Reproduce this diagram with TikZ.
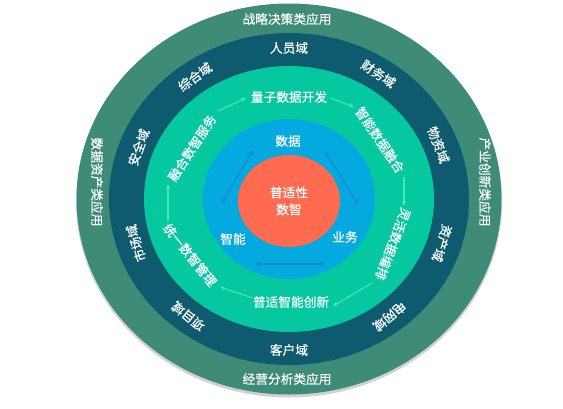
\documentclass[tikz,border=0pt]{standalone}
\usepackage{fontspec}
\newfontfamily\cjk{Noto Sans CJK SC}[FakeBold=0.5]
\usetikzlibrary{arrows.meta,calc,shapes.geometric}
\definecolor{outerc}{HTML}{3E8C78}
\definecolor{darkc}{HTML}{0E5A6E}
\definecolor{greenc}{HTML}{05C7A0}
\definecolor{bluec}{HTML}{03A9DF}
\definecolor{orangec}{HTML}{FF6B50}
\definecolor{mint}{HTML}{3DEBB8}
\definecolor{arrowblue}{HTML}{1D86C8}
\begin{document}
\begin{tikzpicture}[x=1pt,y=-1pt,
  lbl/.style={text=white,font=\cjk\fontsize{12.7}{17}\selectfont,inner sep=0pt},
  garrow/.style={draw=mint,line width=1.1pt,-{Stealth[length=5pt,width=4.5pt]}},
  barrow/.style={draw=arrowblue,line width=1.1pt,{Stealth[length=5pt,width=4.5pt]}-{Stealth[length=5pt,width=4.5pt]}}]
\useasboundingbox (0,0) rectangle (563,408);
\coordinate (c) at (289,199);
% rings
\fill[black!18] (289,201.5) ellipse [x radius=213pt,y radius=196pt];
\fill[outerc] (c) ellipse [x radius=212.5pt,y radius=195.5pt];
\fill[darkc] (c) ellipse [x radius=180pt,y radius=166pt];
\fill[greenc] (c) ellipse [x radius=145pt,y radius=133pt];
\fill[bluec] (c) ellipse [x radius=86pt,y radius=80pt];
\node[ellipse,fill=orangec,minimum width=102pt,minimum height=92pt,inner sep=0pt,align=center,lbl] (core) at (289,201) {普适性\\数智};
% outer ring labels
\node[lbl] (app1) at (287,19) {战略决策类应用};
\node[lbl,rotate=-90] (app2) at (485,182) {产业创新类应用};
\node[lbl] (app3) at (287,379) {经营分析类应用};
\node[lbl,rotate=-90] (app4) at (97,182) {数据资产类应用};
% dark ring labels
\node[lbl] (d1) at ({289+160*cos(90)},{199-151*sin(90)}) {人员域};
\node[lbl,rotate=-34] (d2) at ({289+160*cos(56)},{199-151*sin(56)}) {财务域};
\node[lbl,rotate=-69] (d3) at ({289+160*cos(21)},{199-151*sin(21)}) {物资域};
\node[lbl,rotate=-107] (d4) at ({289+160*cos(-17)},{199-151*sin(-17)}) {资产域};
\node[lbl,rotate=-141] (d5) at ({289+160*cos(-51)},{199-151*sin(-51)}) {电网域};
\node[lbl] (d6) at ({289+160*cos(-90)},{199-151*sin(-90)}) {客户域};
\node[lbl,rotate=141] (d7) at ({289+160*cos(-129)},{199-151*sin(-129)}) {项目域};
\node[lbl,rotate=107] (d8) at ({289+160*cos(-163)},{199-151*sin(-163)}) {市场域};
\node[lbl,rotate=70] (d9) at ({289+160*cos(160)},{199-151*sin(160)}) {安全域};
\node[lbl,rotate=36] (d10) at ({289+160*cos(126)},{199-151*sin(126)}) {综合域};
% green ring labels
\node[lbl] (g1) at (289,97) {量子数据开发};
\node[lbl,rotate=-56] (g2) at (380,140) {智能数据融合};
\node[lbl,rotate=-111] (g3) at (393,244) {灵活数据编排};
\node[lbl] (g4) at (291,302) {普适智能创新};
\node[lbl,rotate=-51] (g5) at (190,255) {统一数智管理};
\node[lbl,rotate=57] (g6) at (192,148) {融合数智服务};
% green arrows
\coordinate (a1s) at (218,111); \coordinate (a1e) at (246,98);
\coordinate (a2s) at (331,98);  \coordinate (a2e) at (354,107);
\coordinate (a3s) at (404,177); \coordinate (a3e) at (404,206);
\coordinate (a4s) at (372,283); \coordinate (a4e) at (333,306);
\coordinate (a5s) at (253,298); \coordinate (a5e) at (220,287);
\coordinate (a6s) at (168,221); \coordinate (a6e) at (168,184);
\draw[garrow] (a1s) -- (a1e);
\draw[garrow] (a2s) -- (a2e);
\draw[garrow] (a3s) -- (a3e);
\draw[garrow] (a4s) -- (a4e);
\draw[garrow] (a5s) -- (a5e);
\draw[garrow] (a6s) -- (a6e);
% blue labels
\node[lbl] (b1) at (288,141) {数据};
\node[lbl] (b2) at (233,239) {智能};
\node[lbl] (b3) at (345,237) {业务};
% blue arrows
\coordinate (p1s) at (253,150); \coordinate (p1e) at (222,203);
\coordinate (p2s) at (325,152); \coordinate (p2e) at (358,204);
\coordinate (p3s) at (255,264); \coordinate (p3e) at (325,264);
\draw[barrow] (p1s) -- (p1e);
\draw[barrow] (p2s) -- (p2e);
\draw[barrow] (p3s) -- (p3e);
\end{tikzpicture}
\end{document}
